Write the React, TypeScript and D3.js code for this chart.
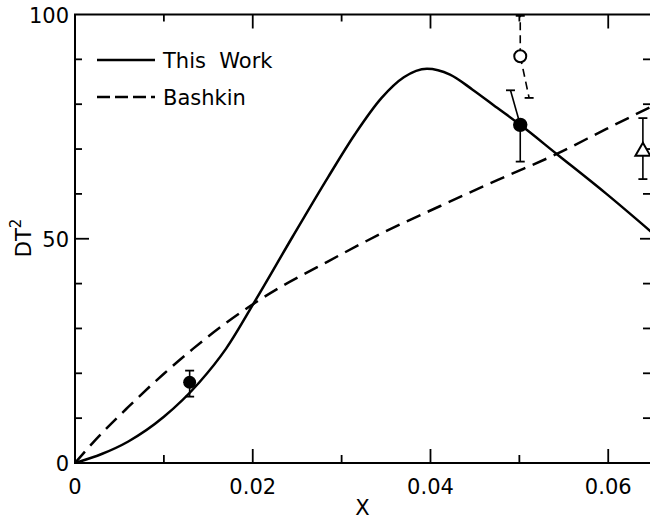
import React from "react";
import * as d3 from "d3";

// ---- data ----
const thisWorkX = [0, 0.003, 0.006, 0.01, 0.014, 0.017, 0.0204, 0.0245, 0.0285, 0.0315, 0.0345, 0.037, 0.0396, 0.0422, 0.0447, 0.0475, 0.0501, 0.0542, 0.0598, 0.0648];
const thisWorkY = [0, 2.0, 4.8, 10.3, 18.0, 25.5, 36.6, 50.5, 63.8, 73.3, 81.4, 86.0, 87.9, 86.6, 83.3, 79.2, 75.4, 68.9, 60.0, 51.6];
const bashkinX = [0, 0.002, 0.006, 0.01, 0.0133, 0.0171, 0.0204, 0.0231, 0.0272, 0.0347, 0.0411, 0.0444, 0.0486, 0.0542, 0.0598, 0.0648];
const bashkinY = [0, 4.5, 12.5, 19.9, 25.5, 31.4, 35.9, 39.2, 43.6, 51.4, 57.3, 60.3, 64.0, 68.9, 74.5, 79.4];

// filled circles
const filledX = [0.0129, 0.0501];
const filledY = [18.0, 75.4];
// open circle
const openX = [0.0501];
const openY = [90.7];
// open triangle
const triX = [0.0639];
const triY = [69.6];

// solid error bars: from marker to end
const solidBarFromX = [0.0129, 0.0129, 0.0501, 0.0501, 0.0639, 0.0639];
const solidBarFromY = [18.0, 18.0, 75.4, 75.4, 69.6, 69.6];
const solidBarToX = [0.0129, 0.0129, 0.0490, 0.0501, 0.0639, 0.0639];
const solidBarToY = [20.6, 14.8, 83.1, 67.2, 76.9, 63.3];
// dashed error bars (open circle)
const dashBarFromX = [0.0501, 0.0501];
const dashBarFromY = [90.7, 90.7];
const dashBarToX = [0.0501, 0.0511];
const dashBarToY = [99.7, 81.4];

const xMajor = [0.02, 0.04, 0.06];
const xMinor = [0.01, 0.03, 0.05];
const yMajor = [50];
const yMinor = [10, 20, 30, 40, 60, 70, 80, 90];
const xTickLabels = [0, 0.02, 0.04, 0.06];
const yTickLabels = [0, 50, 100];

const legendLabels = ["This  Work", "Bashkin"];

export default function App() {
  const W = 650, H = 522;
  const left = 75, right = 650, top = 14.5, bottom = 463;
  const x = d3.scaleLinear().domain([0, 0.0647]).range([left, right]);
  const y = d3.scaleLinear().domain([0, 100]).range([bottom, top]);
  const font = "DejaVu Sans, sans-serif";

  const line = d3.line<[number, number]>().x(d => x(d[0])).y(d => y(d[1])).curve(d3.curveMonotoneX);
  const solidPts = thisWorkX.map((v, i) => [v, thisWorkY[i]] as [number, number]);
  const dashPts = bashkinX.map((v, i) => [v, bashkinY[i]] as [number, number]);

  const majorLen = 14, minorLen = 7;
  const capHalf = 4.5;

  const bar = (fx: number, fy: number, tx: number, ty: number, key: string, dashed: boolean) => {
    const x1 = x(fx), y1 = y(fy), x2 = x(tx), y2 = y(ty);
    return (
      <g key={key}>
        <line x1={x1} y1={y1} x2={x2} y2={y2} stroke="#000" strokeWidth={1.6} strokeDasharray={dashed ? "8,5" : undefined} />
        <line x1={x2 - capHalf} y1={y2} x2={x2 + capHalf} y2={y2} stroke="#000" strokeWidth={1.8} />
      </g>
    );
  };

  return (
    <svg width={W} height={H} style={{ position: "absolute", left: 0, top: 0, background: "#fff" }} fontFamily={font}>
      <defs>
        <clipPath id="plot">
          <rect x={left} y={top} width={right - left} height={bottom - top} />
        </clipPath>
      </defs>
      {/* frame */}
      <g stroke="#000" strokeWidth={2} fill="none">
        <line x1={left} y1={top} x2={left} y2={bottom + 1} />
        <line x1={left - 1} y1={bottom} x2={right} y2={bottom} />
        <line x1={left - 1} y1={top} x2={right} y2={top} />
        <line x1={right + 1} y1={top} x2={right + 1} y2={bottom} />
      </g>
      {/* ticks */}
      <g stroke="#000" strokeWidth={1.8}>
        {xMajor.map(v => (
          <g key={"xm" + v}>
            <line x1={x(v)} x2={x(v)} y1={bottom} y2={bottom - majorLen} />
            <line x1={x(v)} x2={x(v)} y1={top} y2={top + majorLen} />
          </g>
        ))}
        {xMinor.map(v => (
          <g key={"xn" + v}>
            <line x1={x(v)} x2={x(v)} y1={bottom} y2={bottom - minorLen - 1} />
            <line x1={x(v)} x2={x(v)} y1={top} y2={top + minorLen} />
          </g>
        ))}
        {yMajor.map(v => (
          <g key={"ym" + v}>
            <line x1={left} x2={left + majorLen} y1={y(v)} y2={y(v)} />
            <line x1={right} x2={right - 10} y1={y(v)} y2={y(v)} />
          </g>
        ))}
        {yMinor.map(v => (
          <g key={"yn" + v}>
            <line x1={left} x2={left + minorLen} y1={y(v)} y2={y(v)} />
            <line x1={right} x2={right - minorLen} y1={y(v)} y2={y(v)} />
          </g>
        ))}
      </g>
      {/* tick labels */}
      <g fontSize={21} fill="#000">
        {xTickLabels.map(v => (
          <text key={"xl" + v} x={x(v)} y={494} textAnchor="middle">{v === 0 ? "0" : d3.format(".2f")(v)}</text>
        ))}
        {yTickLabels.map(v => (
          <text key={"yl" + v} x={left - 6} y={y(v) + 8} textAnchor="end">{v}</text>
        ))}
      </g>
      <text x={(left + right) / 2} y={515} textAnchor="middle" fontSize={21}>X</text>
      <text transform={`translate(31,238) rotate(-90)`} textAnchor="middle" fontSize={21}>
        DT<tspan dy={-10} fontSize={15}>2</tspan>
      </text>
      {/* legend */}
      <g>
        <line x1={97} x2={155} y1={60} y2={60} stroke="#000" strokeWidth={2.5} />
        <text x={163} y={67.5} fontSize={21} style={{ whiteSpace: "pre" }}>{legendLabels[0]}</text>
        <line x1={97} x2={155} y1={97} y2={97} stroke="#000" strokeWidth={2.5} strokeDasharray="13,5" />
        <text x={163} y={104.5} fontSize={21}>{legendLabels[1]}</text>
      </g>
      {/* curves */}
      <g clipPath="url(#plot)" fill="none" stroke="#000" strokeWidth={2.5}>
        <path d={line(solidPts) || ""} />
        <path d={line(dashPts) || ""} strokeDasharray="15,8" />
      </g>
      {/* error bars */}
      {solidBarFromX.map((v, i) => bar(v, solidBarFromY[i], solidBarToX[i], solidBarToY[i], "sb" + i, false))}
      {dashBarFromX.map((v, i) => bar(v, dashBarFromY[i], dashBarToX[i], dashBarToY[i], "db" + i, true))}
      {/* markers */}
      {filledX.map((v, i) => (
        <circle key={"f" + i} cx={x(v)} cy={y(filledY[i])} r={i === 0 ? 6.5 : 7.2} fill="#000" />
      ))}
      {openX.map((v, i) => (
        <circle key={"o" + i} cx={x(v)} cy={y(openY[i])} r={6} fill="#fff" stroke="#000" strokeWidth={2} />
      ))}
      {triX.map((v, i) => {
        const cx = x(v), cy = y(triY[i]);
        const p = [[cx, cy - 8], [cx + 7.5, cy + 5], [cx - 7.5, cy + 5]];
        return <polygon key={"t" + i} points={p.map(q => q.join(",")).join(" ")} fill="#fff" stroke="#000" strokeWidth={2} />;
      })}
    </svg>
  );
}
